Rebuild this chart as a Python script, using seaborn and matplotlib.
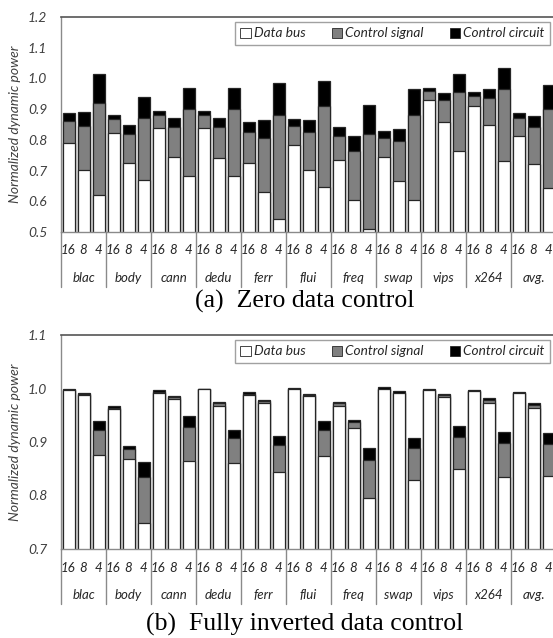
import numpy as np
import pandas as pd
import matplotlib
matplotlib.use("Agg")
import matplotlib.pyplot as plt
import seaborn as sns
from matplotlib.patches import Patch
from matplotlib.lines import Line2D
from matplotlib.transforms import blended_transform_factory

sns.set_theme(style="white")
plt.rcParams['font.family'] = ['Lato', 'DejaVu Sans']

benchmarks = ["blac", "body", "cann", "dedu", "ferr", "flui", "freq", "swap", "vips", "x264", "avg."]
sizes = ["16", "8", "4"]

# (a) Zero data control
a_data_bus = [0.790, 0.702, 0.619, 0.822, 0.725, 0.668, 0.839, 0.744, 0.682, 0.839, 0.741, 0.682,
              0.725, 0.630, 0.542, 0.782, 0.702, 0.645, 0.733, 0.604, 0.510, 0.744, 0.665, 0.604,
              0.931, 0.859, 0.765, 0.909, 0.847, 0.730, 0.811, 0.721, 0.644]
a_ctrl_signal = [0.070, 0.144, 0.301, 0.046, 0.093, 0.203, 0.042, 0.097, 0.220, 0.042, 0.100, 0.220,
                 0.102, 0.177, 0.340, 0.064, 0.125, 0.264, 0.080, 0.160, 0.308, 0.063, 0.130, 0.277,
                 0.027, 0.072, 0.191, 0.034, 0.088, 0.234, 0.059, 0.121, 0.258]
a_ctrl_circuit = [0.027, 0.046, 0.095, 0.013, 0.031, 0.067, 0.013, 0.030, 0.067, 0.013, 0.031, 0.067,
                  0.030, 0.057, 0.104, 0.023, 0.039, 0.081, 0.028, 0.048, 0.094, 0.021, 0.039, 0.085,
                  0.010, 0.023, 0.059, 0.014, 0.029, 0.070, 0.019, 0.035, 0.078]

# (b) Fully inverted data control
b_data_bus = [0.998, 0.987, 0.875, 0.961, 0.868, 0.749, 0.992, 0.981, 0.864, 0.999, 0.967, 0.860,
              0.988, 0.972, 0.844, 0.999, 0.986, 0.874, 0.967, 0.926, 0.796, 1.000, 0.991, 0.829,
              0.998, 0.984, 0.850, 0.995, 0.972, 0.834, 0.991, 0.963, 0.837]
b_ctrl_signal = [0.000, 0.003, 0.048, 0.003, 0.019, 0.086, 0.002, 0.003, 0.064, 0.000, 0.005, 0.047,
                 0.002, 0.005, 0.051, 0.000, 0.001, 0.049, 0.005, 0.012, 0.070, 0.000, 0.000, 0.060,
                 0.000, 0.003, 0.060, 0.000, 0.007, 0.065, 0.000, 0.006, 0.060]
b_ctrl_circuit = [0.002, 0.002, 0.016, 0.003, 0.006, 0.027, 0.003, 0.002, 0.021, 0.001, 0.002, 0.015,
                  0.003, 0.002, 0.017, 0.002, 0.003, 0.016, 0.002, 0.003, 0.022, 0.003, 0.004, 0.019,
                  0.002, 0.003, 0.019, 0.002, 0.003, 0.020, 0.003, 0.003, 0.019]

series_names = ["Data bus", "Control signal", "Control circuit"]
series_colors = ["white", "#808080", "black"]
captions = ["(a)  Zero data control", "(b)  Fully inverted data control"]
ylims = [(0.5, 1.2), (0.7, 1.1)]
yticks = [np.round(np.arange(0.5, 1.21, 0.1), 1), np.round(np.arange(0.7, 1.11, 0.1), 1)]

W, H = 553, 638
fig = plt.figure(figsize=(W / 100, H / 100), dpi=100)

# axes boxes in pixels: (left, top, right, bottom)
boxes = [(61, 17, 556, 232), (61, 335, 556, 549)]
caption_y = [301, 624]

cats = [f"{b} {s}" for b in benchmarks for s in sizes]
tick_font = dict(family=['Lato', 'DejaVu Sans'], style='italic')

for i, (db, cs, cc) in enumerate([(a_data_bus, a_ctrl_signal, a_ctrl_circuit),
                                   (b_data_bus, b_ctrl_signal, b_ctrl_circuit)]):
    l, t, r, b = boxes[i]
    ax = fig.add_axes([l / W, 1 - b / H, (r - l) / W, (b - t) / H])
    db = np.array(db); cs = np.array(cs); cc = np.array(cc)
    df = pd.DataFrame({"cat": cats, "total": db + cs + cc, "mid": db + cs, "low": db})
    for col, color in zip(["total", "mid", "low"], ["black", "#808080", "white"]):
        sns.barplot(data=df, x="cat", y=col, order=cats, color=color, saturation=1,
                    edgecolor="#262626", linewidth=0.9, width=0.8, errorbar=None, ax=ax)
    ax.set_xlim(-0.5, len(cats) - 0.5)
    ax.set_ylim(*ylims[i])
    ax.set_yticks(yticks[i])
    ax.set_yticklabels([f"{v:.1f}" for v in yticks[i]], fontsize=10, color="#404040", **tick_font)
    ax.set_xticks(range(len(cats)))
    ax.set_xticklabels(sizes * len(benchmarks), fontsize=9.5, color="#262626", **tick_font)
    ax.tick_params(axis='both', length=0)
    ax.tick_params(axis='y', pad=10)
    ax.tick_params(axis='x', pad=9)
    ax.set_xlabel("")
    ax.set_ylabel("Normalized dynamic power", fontsize=10, color="#404040", labelpad=5, **tick_font)
    for side in ["left", "bottom"]:
        ax.spines[side].set_color("#8a8a8a")
        ax.spines[side].set_linewidth(1.0)
    ax.spines["top"].set_color("#555555")
    ax.spines["top"].set_linewidth(1.2)
    ax.spines["right"].set_visible(False)

    axh = b - t
    trans = blended_transform_factory(ax.transData, ax.transAxes)
    for k in range(len(benchmarks)):
        x0 = 3 * k - 0.5
        ax.add_line(Line2D([x0, x0], [0, -55 / axh], transform=trans, color="#8a8a8a",
                           lw=1.0, clip_on=False))
        ax.text(3 * k + 1, -46 / axh, benchmarks[k], transform=trans, ha='center', va='center',
                fontsize=9.5, color="#262626", **tick_font)

    handles = [Patch(facecolor=c, edgecolor="#262626", linewidth=0.6) for c in series_colors]
    leg = ax.legend(handles, series_names, loc='upper right', ncol=3,
                    bbox_to_anchor=(550 / W, 1 - (t + 5) / H), bbox_transform=fig.transFigure,
                    borderaxespad=0, frameon=True, fancybox=False, handlelength=0.75,
                    handleheight=0.75, handletextpad=0.25, columnspacing=1.9, borderpad=0.4,
                    prop=dict(family=['Lato', 'DejaVu Sans'], style='italic', size=9.8))
    leg.get_frame().set_edgecolor("#8a8a8a")
    leg.get_frame().set_linewidth(1.0)

    fig.text(305 / W, 1 - caption_y[i] / H, captions[i], ha='center', va='center',
             fontsize=18.5, family=['Liberation Serif', 'DejaVu Serif'], color="black")

fig.savefig("out.png", dpi=100)
